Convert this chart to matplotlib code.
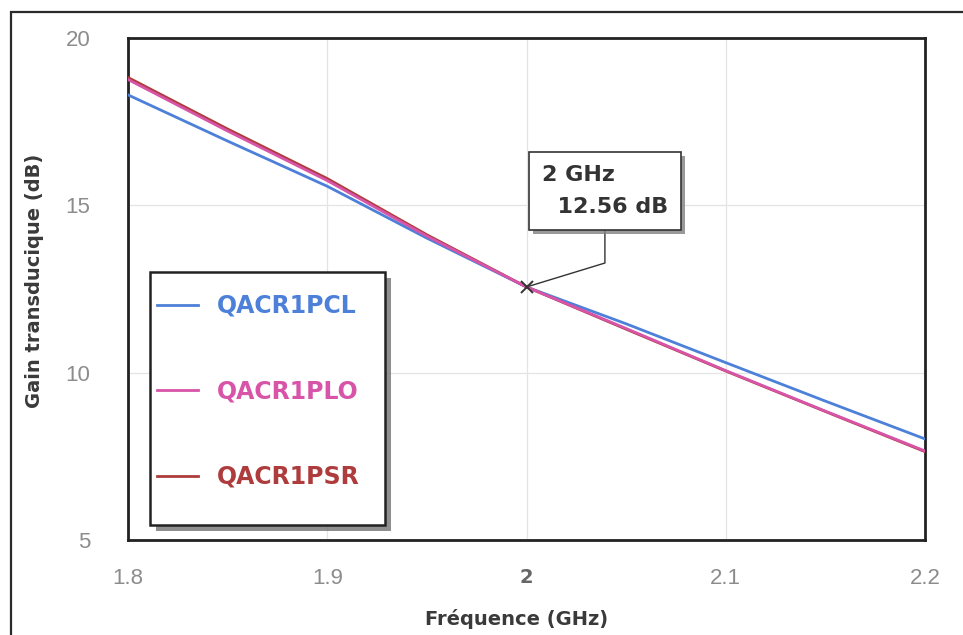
import matplotlib
matplotlib.use("Agg")
import matplotlib.pyplot as plt
import matplotlib.patheffects as pe
from matplotlib.patches import Rectangle

# Frequency sweep (GHz) and transducer gain (dB) for the three amplifier variants
freq = [1.80, 1.85, 1.90, 1.95, 2.00, 2.05, 2.10, 2.15, 2.20]
gain_pcl = [18.30, 16.92, 15.57, 14.02, 12.56, 11.46, 10.30, 9.15, 8.02]
gain_plo = [18.76, 17.22, 15.74, 14.08, 12.56, 11.32, 10.06, 8.85, 7.66]
gain_psr = [18.82, 17.28, 15.80, 14.12, 12.56, 11.30, 10.05, 8.84, 7.64]

series_names = ["QACR1PCL", "QACR1PLO", "QACR1PSR"]
series_colors = ["#4d80d8", "#d854a8", "#ae3c3c"]

x_ticks = [1.8, 1.9, 2.0, 2.1, 2.2]
x_tick_labels = ["1.8", "1.9", "2", "2.1", "2.2"]
y_ticks = [5, 10, 15, 20]
y_tick_labels = ["5", "10", "15", "20"]

marker_freq = 2.0
marker_gain = 12.56

W, H = 963, 635
fig = plt.figure(figsize=(W / 100, H / 100), dpi=100)
fig.patch.set_facecolor("white")

# outer frame running off the right and bottom edges
fig.patches.append(Rectangle((11 / W, -0.2), 1.5, (H - 12) / H + 0.2,
                             transform=fig.transFigure, fill=False,
                             edgecolor="#2a2a2a", linewidth=1.6))

ax = fig.add_axes([128 / W, 1 - 540 / H, (925 - 128) / W, (540 - 38) / H])
axw, axh = 925 - 128, 540 - 38

bold_font = ["DejaVu Sans"]
tick_font = ["Liberation Sans", "DejaVu Sans"]

ax.plot(freq, gain_pcl, color=series_colors[0], lw=2.0, label=series_names[0], zorder=3)
ax.plot(freq, gain_psr, color=series_colors[2], lw=2.0, label=series_names[2], zorder=3)
ax.plot(freq, gain_plo, color=series_colors[1], lw=2.0, label=series_names[1], zorder=4)

ax.set_xlim(1.8, 2.2)
ax.set_ylim(5, 20)
ax.set_xticks(x_ticks)
ax.set_xticklabels(x_tick_labels, fontfamily=tick_font, fontsize=16, color="#8c8c8c")
ax.set_yticks(y_ticks)
ax.set_yticklabels(y_tick_labels, fontfamily=tick_font, fontsize=16, color="#8c8c8c")
ax.tick_params(axis="both", length=0)
ax.tick_params(axis="x", pad=20)
ax.tick_params(axis="y", pad=27)
for lbl in ax.get_xticklabels():
    if lbl.get_text() == "2":
        lbl.set_fontweight("bold")
        lbl.set_fontfamily(bold_font)
        lbl.set_fontsize(14)
        lbl.set_color("#666666")

ax.grid(True, color="#e4e4e4", lw=0.9)
ax.set_axisbelow(True)
for sp in ax.spines.values():
    sp.set_linewidth(2.0)
    sp.set_color("#222222")

ax.set_xlabel("Fréquence (GHz)", fontfamily=bold_font, fontsize=14,
              fontweight="bold", color="#3a3a3a")
ax.set_ylabel("Gain transducique (dB)", fontfamily=bold_font, fontsize=14,
              fontweight="bold", color="#3a3a3a")
ax.xaxis.set_label_coords(0.487, -0.138)
ax.yaxis.set_label_coords(-0.106, 0.516)

# legend box with drop shadow, drawn as its own patch
leg_box = Rectangle(((150 - 128) / axw, (540 - 525) / axh), 235 / axw, 253 / axh,
                    transform=ax.transAxes, facecolor="white", edgecolor="#222222",
                    linewidth=1.8, zorder=5)
leg_box.set_path_effects([pe.SimplePatchShadow(offset=(4, -4), shadow_rgbFace="0.45",
                                               alpha=0.8), pe.Normal()])
ax.add_patch(leg_box)

handles, labels = ax.get_legend_handles_labels()
order = [labels.index(n) for n in series_names]
leg = ax.legend([handles[i] for i in order], [labels[i] for i in order],
                loc="upper left", bbox_to_anchor=((157 - 128) / axw, (540 - 294) / axh),
                frameon=False,
                prop={"family": bold_font, "weight": "bold", "size": 17},
                labelcolor="linecolor", handlelength=1.75, handletextpad=0.8,
                labelspacing=2.6, borderpad=0, borderaxespad=0)
leg.set_zorder(6)

# marker and callout at 2 GHz
ax.plot([marker_freq], [marker_gain], marker="x", color="#333333",
        markersize=8, mew=1.4, zorder=7)
ann = ax.annotate(f"{marker_freq:g} GHz\n  {marker_gain:.2f} dB",
                  xy=(marker_freq, marker_gain), xytext=(11, 88),
                  textcoords="offset points", ha="left", va="top",
                  fontfamily=bold_font, fontsize=16, fontweight="bold",
                  color="#333333", linespacing=1.75,
                  bbox=dict(boxstyle="square,pad=0.58", fc="white",
                            ec="#333333", lw=1.2),
                  arrowprops=dict(arrowstyle="-", color="#333333", lw=1.0,
                                  relpos=(0.5, 0.0), shrinkA=0, shrinkB=2,
                                  connectionstyle="angle,angleA=-90,angleB=17,rad=0"),
                  zorder=8)
ann.get_bbox_patch().set_path_effects([
    pe.SimplePatchShadow(offset=(3, -3), shadow_rgbFace="0.5", alpha=0.8),
    pe.Normal()])

fig.savefig("out.png", dpi=100, facecolor="white")
